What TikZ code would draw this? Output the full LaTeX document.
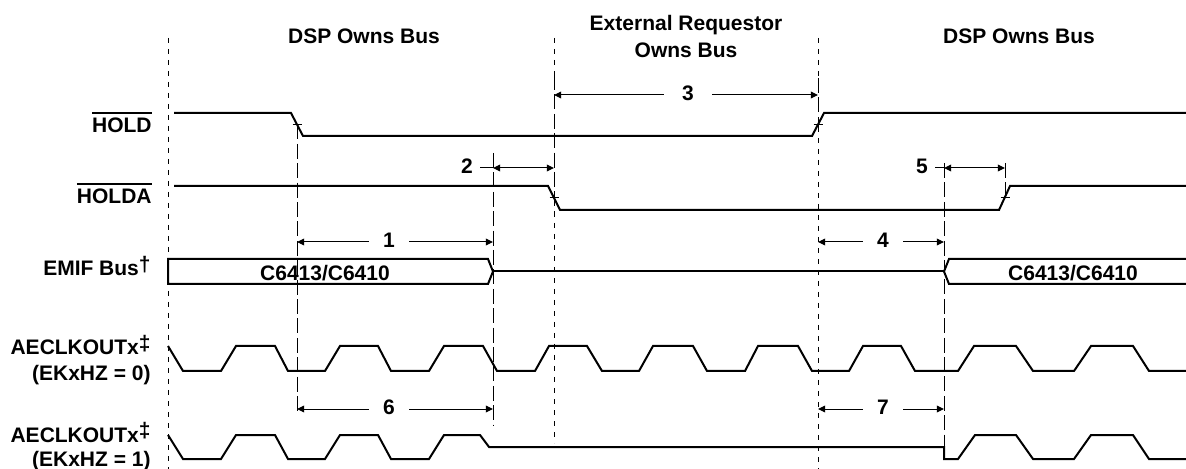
\documentclass[tikz,border=0pt]{standalone}
\usepackage{fontspec}
\setmainfont{Liberation Sans}
\usetikzlibrary{arrows.meta,positioning,calc}

\newcommand{\ovbar}[1]{\vbox{\hrule height 1pt\kern 2.2pt\hbox{#1}}}

\begin{document}
\begin{tikzpicture}[
        x=0.5pt,
        y=-0.5pt,
        every node/.style={
                inner sep=0pt,
                font=\fontsize{10.5}{13.5}\selectfont\bfseries
            },
        siglabel/.style={anchor=base east},
        phase/.style={align=center},
        num/.style={anchor=mid, inner xsep=7pt},
        wave/.style={line width=1pt},
        guide/.style={line width=0.5pt, dash pattern=on 2.5pt off 3pt},
        refline/.style={line width=0.5pt, dash pattern=on 7.5pt off 2.2pt},
        thinline/.style={line width=0.5pt},
        dimline/.style={line width=0.5pt, -{Triangle[length=3.6pt,width=3.4pt]}},
        dimboth/.style={line width=0.5pt, {Triangle[length=3.6pt,width=3.4pt]}-{Triangle[length=3.6pt,width=3.4pt]}}
    ]

    \useasboundingbox (0,0) rectangle (1186,469);

    % who owns the bus
    \node[phase] (own1) at (364,36) {DSP Owns Bus};
    \node[phase, anchor=north] (ext) at (686,15) {External Requestor\\Owns Bus};
    \node[phase] (own2) at (1019,36) {DSP Owns Bus};

    % signal names
    \node[siglabel] (hold) at (152,133) {\ovbar{HOLD}};
    \node[siglabel] (holda) at (152,204) {\ovbar{HOLDA}};
    \node[siglabel] (emif) at (151,276) {EMIF Bus\raisebox{2pt}{†}};
    \node[siglabel] (clka) at (151,355) {AECLKOUTx\raisebox{2pt}{‡}};
    \node[siglabel] (hza) at (151,380) {(EKxHZ = 0)};
    \node[siglabel] (clkb) at (151,442) {AECLKOUTx\raisebox{2pt}{‡}};
    \node[siglabel] (hzb) at (151,466) {(EKxHZ = 1)};

    % boundaries
    \draw[guide] (168,38) -- (168,469);
    \draw[guide] (554,38) -- (554,75);
    \draw[refline] (554,75) -- (554,212);
    \draw[guide] (554,212) -- (554,443);
    \draw[guide] (818,38) -- (818,78);
    \draw[refline] (818,78) -- (818,127);
    \draw[guide] (818,127) -- (818,469);

    % reference lines
    \draw[refline] (297,124.5) -- (297,412);
    \draw[refline] (493,153) -- (493,425);
    \draw[refline] (944,163) -- (944,459);
    \draw[refline] (1005,163) -- (1005,200);

    % HOLD and HOLDA
    \draw[wave] (174,113) -- (291,113) -- (303,136) -- (812,136) -- (824,113) -- (1186,113);
    \draw[wave] (174,186) -- (548,186) -- (560,210) -- (999,210) -- (1010,186) -- (1186,186);
    \draw[thinline] (292.5,124.5) -- (301.5,124.5);
    \draw[thinline] (813.5,124.5) -- (822.5,124.5);
    \draw[thinline] (549.5,198) -- (558.5,198);
    \draw[thinline] (1000.5,198) -- (1009.5,198);

    % EMIF bus
    \draw[wave] (168,259) -- (488,259) -- (493,271.5) -- (488,284) -- (168,284) -- cycle;
    \draw[wave] (493,271.5) -- (944,271.5);
    \draw[wave] (1186,259) -- (949,259) -- (944,271.5) -- (949,284) -- (1186,284);
    \node[anchor=base] (bus1) at (325,281) {C6413/C6410};
    \node[anchor=base] (bus2) at (1073,281) {C6413/C6410};

    % clocks
    \draw[wave] (168,346) -- (183,371) -- (221,371) -- (236,346) -- (275,346) -- (288,371)
        -- (325,371) -- (340,346) -- (378,346) -- (391,371) -- (429,371) -- (444,346)
        -- (483,346) -- (497,371) -- (535,371) -- (549,346) -- (587,346) -- (602,371)
        -- (639,371) -- (653,346) -- (693,346) -- (707,371) -- (745,371) -- (758,346)
        -- (798,346) -- (812,371) -- (849,371) -- (863,346) -- (901,346) -- (915,371)
        -- (958,371) -- (974,346) -- (1016,346) -- (1033,371) -- (1074,371) -- (1091,346)
        -- (1133,346) -- (1149,371) -- (1186,371);
    \draw[wave] (168,435) -- (183,459) -- (221,459) -- (236,435) -- (275,435) -- (288,459)
        -- (325,459) -- (340,435) -- (378,435) -- (391,459) -- (429,459) -- (444,435)
        -- (480,435) -- (489,447) -- (944,447) -- (944,459) -- (958,459) -- (975,435)
        -- (1016,435) -- (1033,459) -- (1074,459) -- (1091,435) -- (1133,435) -- (1149,459)
        -- (1186,459);

    % timing parameters
    \coordinate (a1l) at (297,242);
    \coordinate (a1r) at (493,242);
    \coordinate (a2l) at (493,168);
    \coordinate (a2r) at (554,168);
    \coordinate (a3l) at (554,95);
    \coordinate (a3r) at (818,95);
    \coordinate (a4l) at (818,242);
    \coordinate (a4r) at (944,242);
    \coordinate (a5l) at (944,168);
    \coordinate (a5r) at (1005,168);
    \coordinate (a6l) at (297,409);
    \coordinate (a6r) at (493,409);
    \coordinate (a7l) at (818,409);
    \coordinate (a7r) at (944,409);

    \node[num] (n1) at (389,242) {1};
    \node[num, inner xsep=3.5pt] (n2) at (467,168) {2};
    \node[num, inner xsep=9pt] (n3) at (688,95) {3};
    \node[num] (n4) at (883,242) {4};
    \node[num, inner xsep=3.5pt] (n5) at (922,168) {5};
    \node[num] (n6) at (389,409) {6};
    \node[num] (n7) at (883,409) {7};

    \draw[dimline] (n1.mid west) -- (a1l);
    \draw[dimline] (n1.mid east) -- (a1r);
    \draw[thinline] (n2.mid east) -- (a2l);
    \draw[dimboth] (a2l) -- (a2r);
    \draw[dimline] (n3.mid west) -- (a3l);
    \draw[dimline] (n3.mid east) -- (a3r);
    \draw[dimline] (n4.mid west) -- (a4l);
    \draw[dimline] (n4.mid east) -- (a4r);
    \draw[thinline] (n5.mid east) -- (a5l);
    \draw[dimboth] (a5l) -- (a5r);
    \draw[dimline] (n6.mid west) -- (a6l);
    \draw[dimline] (n6.mid east) -- (a6r);
    \draw[dimline] (n7.mid west) -- (a7l);
    \draw[dimline] (n7.mid east) -- (a7r);

\end{tikzpicture}
\end{document}
